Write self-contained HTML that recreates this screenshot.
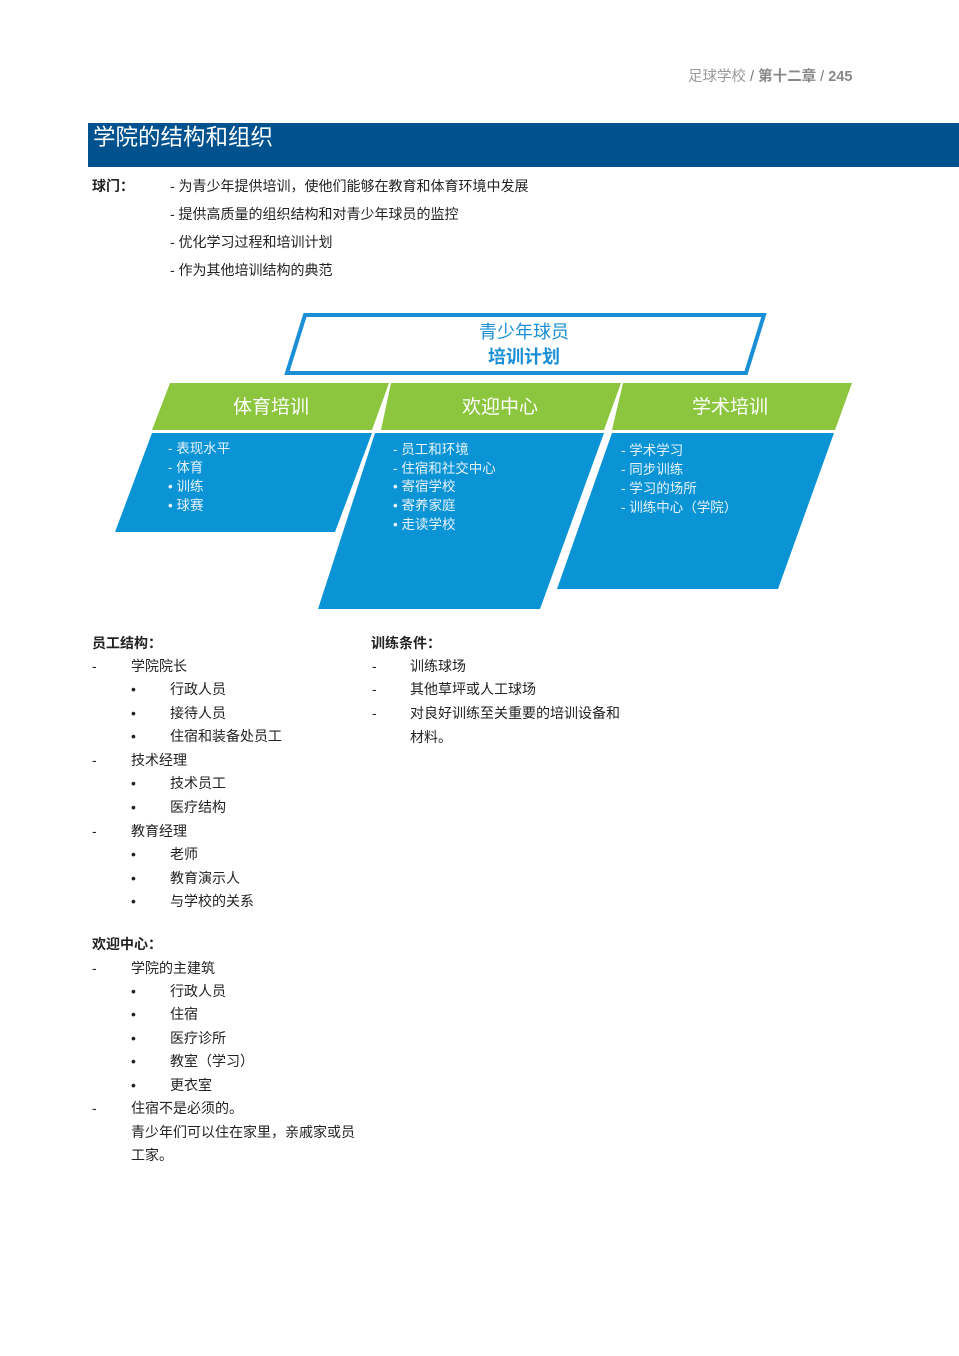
<!DOCTYPE html>
<html><head><meta charset="utf-8">
<style>
body{margin:0;width:959px;height:1356px;background:#fff;position:relative;overflow:hidden;font-family:"Liberation Sans","Noto Sans CJK SC",sans-serif;color:#222}
.t{position:absolute;font-size:14px;line-height:18px;white-space:nowrap}
.b{font-weight:bold}
</style></head><body>
<div class="t" style="left:688px;top:68px;font-size:14.5px;color:#999">足球学校 <span style="color:#777">/</span> <b style="color:#888">第十二章</b> <span style="color:#777">/</span> <b style="color:#888">245</b></div>
<div style="position:absolute;left:88px;top:123px;width:871px;height:44px;background:#00528f"></div>
<div class="t" style="left:93px;top:124px;font-size:22.5px;line-height:28px;color:#fff">学院的结构和组织</div>

<div class="t b" style="left:92px;top:177px">球门：</div>
<div class="t" style="left:170px;top:177px">- 为青少年提供培训，使他们能够在教育和体育环境中发展</div>
<div class="t" style="left:170px;top:205px">- 提供高质量的组织结构和对青少年球员的监控</div>
<div class="t" style="left:170px;top:233px">- 优化学习过程和培训计划</div>
<div class="t" style="left:170px;top:261px">- 作为其他培训结构的典范</div>

<svg style="position:absolute;left:0;top:0" width="959" height="640">
<polygon points="305,315 764,315 746,373 287,373" fill="#fff" stroke="#1a8fd6" stroke-width="4"/>
<text x="524" y="338" font-size="18" fill="#1a8fd6" text-anchor="middle" font-family="Liberation Sans,Noto Sans CJK SC,sans-serif">青少年球员</text>
<text x="524" y="363" font-size="18" font-weight="bold" fill="#1a8fd6" text-anchor="middle" font-family="Liberation Sans,Noto Sans CJK SC,sans-serif">培训计划</text>
<polygon points="170,383 389,383 372,430 152,430" fill="#8cc63f"/>
<polygon points="391,383 621,383 604,430 381,430" fill="#8cc63f"/>
<polygon points="623,383 852,383 835,430 612,430" fill="#8cc63f"/>
<polygon points="152,433 372,433 335,532 115,532" fill="#0a94d6"/>
<polygon points="375,433 604,433 540,609 318,609" fill="#0a94d6"/>
<polygon points="612,433 834,433 778,589 557,589" fill="#0a94d6"/>
<g font-family="Liberation Sans,Noto Sans CJK SC,sans-serif" fill="#fff" font-size="19" text-anchor="middle">
<text x="271" y="413">体育培训</text>
<text x="500" y="413">欢迎中心</text>
<text x="730" y="413">学术培训</text>
</g>
<g font-family="Liberation Sans,Noto Sans CJK SC,sans-serif" fill="#e6f3fb" font-size="13.5">
<text x="168" y="453">- 表现水平</text><text x="168" y="472">- 体育</text><text x="168" y="491">• 训练</text><text x="168" y="510">• 球赛</text>
<text x="393" y="454">- 员工和环境</text><text x="393" y="473">- 住宿和社交中心</text><text x="393" y="491">• 寄宿学校</text><text x="393" y="510">• 寄养家庭</text><text x="393" y="529">• 走读学校</text>
<text x="621" y="455">- 学术学习</text><text x="621" y="474">- 同步训练</text><text x="621" y="493">- 学习的场所</text><text x="621" y="512">- 训练中心（学院）</text>
</g>
</svg>

<div class="t b" style="left:92px;top:634px">员工结构：</div>
<div class="t" style="left:92px;top:657px">-</div><div class="t" style="left:131px;top:657px">学院院长</div>
<div class="t" style="left:131px;top:680px">•</div><div class="t" style="left:170px;top:680px">行政人员</div>
<div class="t" style="left:131px;top:704px">•</div><div class="t" style="left:170px;top:704px">接待人员</div>
<div class="t" style="left:131px;top:727px">•</div><div class="t" style="left:170px;top:727px">住宿和装备处员工</div>
<div class="t" style="left:92px;top:751px">-</div><div class="t" style="left:131px;top:751px">技术经理</div>
<div class="t" style="left:131px;top:774px">•</div><div class="t" style="left:170px;top:774px">技术员工</div>
<div class="t" style="left:131px;top:798px">•</div><div class="t" style="left:170px;top:798px">医疗结构</div>
<div class="t" style="left:92px;top:822px">-</div><div class="t" style="left:131px;top:822px">教育经理</div>
<div class="t" style="left:131px;top:845px">•</div><div class="t" style="left:170px;top:845px">老师</div>
<div class="t" style="left:131px;top:869px">•</div><div class="t" style="left:170px;top:869px">教育演示人</div>
<div class="t" style="left:131px;top:892px">•</div><div class="t" style="left:170px;top:892px">与学校的关系</div>

<div class="t b" style="left:371px;top:634px">训练条件：</div>
<div class="t" style="left:372px;top:657px">-</div><div class="t" style="left:410px;top:657px">训练球场</div>
<div class="t" style="left:372px;top:680px">-</div><div class="t" style="left:410px;top:680px">其他草坪或人工球场</div>
<div class="t" style="left:372px;top:704px">-</div><div class="t" style="left:410px;top:704px">对良好训练至关重要的培训设备和</div>
<div class="t" style="left:410px;top:728px">材料。</div>

<div class="t b" style="left:92px;top:935px">欢迎中心：</div>
<div class="t" style="left:92px;top:959px">-</div><div class="t" style="left:131px;top:959px">学院的主建筑</div>
<div class="t" style="left:131px;top:982px">•</div><div class="t" style="left:170px;top:982px">行政人员</div>
<div class="t" style="left:131px;top:1005px">•</div><div class="t" style="left:170px;top:1005px">住宿</div>
<div class="t" style="left:131px;top:1029px">•</div><div class="t" style="left:170px;top:1029px">医疗诊所</div>
<div class="t" style="left:131px;top:1052px">•</div><div class="t" style="left:170px;top:1052px">教室（学习）</div>
<div class="t" style="left:131px;top:1076px">•</div><div class="t" style="left:170px;top:1076px">更衣室</div>
<div class="t" style="left:92px;top:1099px">-</div><div class="t" style="left:131px;top:1099px">住宿不是必须的。</div>
<div class="t" style="left:131px;top:1123px">青少年们可以住在家里，亲戚家或员</div>
<div class="t" style="left:131px;top:1146px">工家。</div>
</body></html>
